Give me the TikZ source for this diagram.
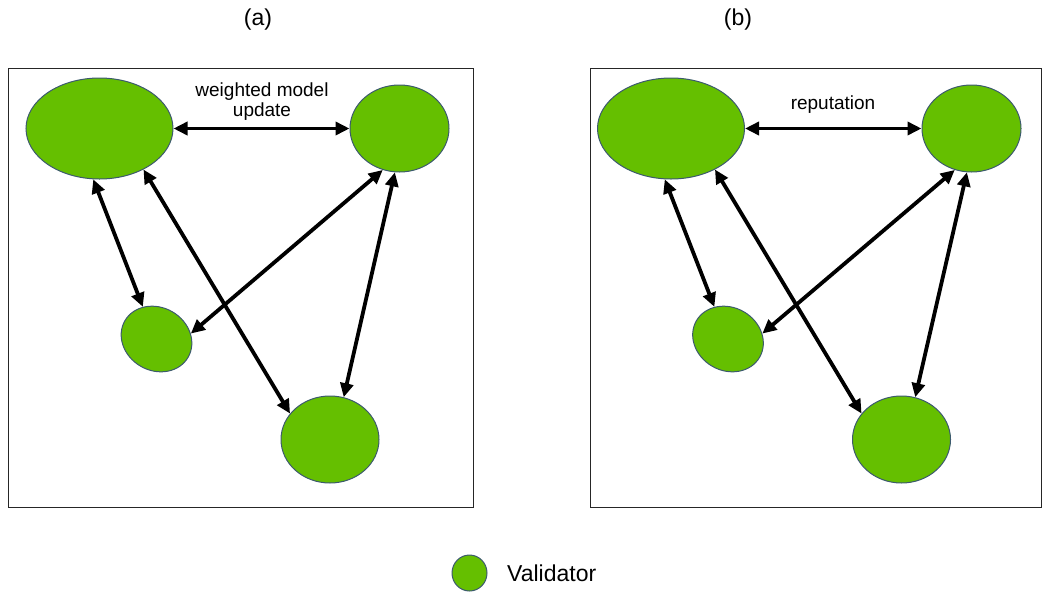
\documentclass[tikz,border=0pt]{standalone}
\usepackage{fontspec}
\setmainfont{Liberation Sans}
\usetikzlibrary{shapes.geometric,arrows.meta}
\definecolor{vgreen}{RGB}{101,191,0}
\definecolor{vborder}{RGB}{60,90,110}
\tikzset{
  validator/.style={ellipse, draw=vborder, line width=1pt, fill=vgreen, inner sep=0pt},
  link/.style={line width=3.8pt, {Triangle[length=14pt,width=13pt]}-{Triangle[length=14pt,width=13pt]}},
  panel/.style={draw=black!85, line width=1pt},
  lbl/.style={font=\fontsize{19}{20}\selectfont, align=center, inner sep=0pt},
  ttl/.style={font=\fontsize{23}{26}\selectfont, inner sep=0pt}
}
\begin{document}
\begin{tikzpicture}[x=1pt,y=-1pt]
\useasboundingbox (0,0) rectangle (1043,592);
% titles
\node[ttl] (ta) at (258,20) {(a)};
\node[ttl] (tb) at (738,20) {(b)};
% panel frames
\draw[panel] (8,68) rectangle (473,507);
\draw[panel] (590,68) rectangle (1041,507);
% panel (a)
\node[validator, minimum width=147pt, minimum height=101pt] (A1) at (99.5,128.5) {};
\node[validator, minimum width=99pt, minimum height=87pt] (B1) at (399.5,128.5) {};
\node[validator, minimum width=73pt, minimum height=63pt, rotate=-30] (C1) at (156.5,339) {};
\node[validator, minimum width=98pt, minimum height=87pt] (D1) at (330,439.5) {};
\node[lbl] (L1) at (262,102) {weighted model\\update};
\draw[link] (A1.east) -- (B1.west);
\draw[link] (A1.263) -- (C1.143.5);
\draw[link] (A1.317) -- (D1.147);
\draw[link] (B1.248) -- (C1.39);
\draw[link] (B1.264) -- (D1.72);
% panel (b)
\node[validator, minimum width=147pt, minimum height=101pt] (A2) at (671,128.5) {};
\node[validator, minimum width=99pt, minimum height=87pt] (B2) at (971.5,128.5) {};
\node[validator, minimum width=73pt, minimum height=63pt, rotate=-30] (C2) at (728,339) {};
\node[validator, minimum width=98pt, minimum height=87pt] (D2) at (901.5,439.5) {};
\node[lbl] (L2) at (833,105) {reputation};
\draw[link] (A2.east) -- (B2.west);
\draw[link] (A2.263) -- (C2.143.5);
\draw[link] (A2.317) -- (D2.147);
\draw[link] (B2.248) -- (C2.39);
\draw[link] (B2.264) -- (D2.72);
% legend
\node[validator, minimum width=35pt, minimum height=36pt] (LG) at (469.5,573) {};
\node[lbl, font=\fontsize{23}{26}\selectfont, anchor=west] (LT) at (507,573) {Validator};
\end{tikzpicture}
\end{document}
